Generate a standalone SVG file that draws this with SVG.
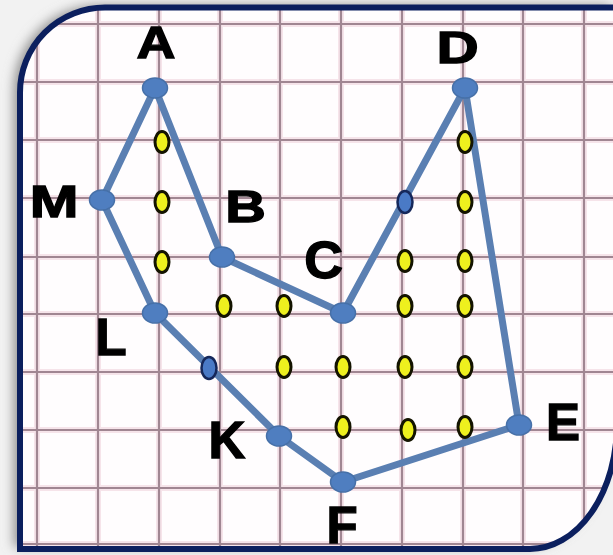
<svg xmlns="http://www.w3.org/2000/svg" width="613" height="555" viewBox="0 0 613 555">
<defs>
<filter id="sh" x="-10%" y="-10%" width="120%" height="120%"><feGaussianBlur stdDeviation="6"/></filter>
<clipPath id="inner"><path d="M 20,549 L 20,92.5 A 85 85 0 0 1 105,7.5 L 617,7.5 L 617,424 A 87 125 0 0 1 530,549 Z"/></clipPath>
<style>
.halo{stroke:#f6e4ea;stroke-width:6;fill:none}
.grid{stroke:#a08692;stroke-width:2.2;fill:none}
.edge{stroke:#5a7fb2;stroke-width:7;fill:none;stroke-linejoin:round}
.vtx{fill:#4f7ec0;stroke:#4670a8;stroke-width:1.5}
.mid{fill:#4a7ac6;stroke:#16285a;stroke-width:2.5}
.yel{fill:#eef01e;stroke:#141400;stroke-width:3}
.lbl{font-family:"Liberation Sans",Arial,sans-serif;font-weight:bold;fill:#000;stroke:#000;stroke-width:1.3;text-anchor:middle}
.top{font-size:45px}
.bot{font-size:51px}
</style>
</defs>
<rect width="613" height="555" fill="#f2f2f2"/>
<path d="M 20,549 L 20,92.5 A 85 85 0 0 1 105,7.5 L 617,7.5 L 617,424 A 87 125 0 0 1 530,549 Z" transform="translate(-6,-2)" fill="#8c8c8c" filter="url(#sh)"/>
<path d="M 20,549 L 20,92.5 A 85 85 0 0 1 105,7.5 L 617,7.5 L 617,424 A 87 125 0 0 1 530,549 Z" fill="#fffdfe"/>
<g id="grid" clip-path="url(#inner)">
<path class="halo" d="M37,0V555M98,0V555M159,0V555M220,0V555M280,0V555M341,0V555M402,0V555M463,0V555M523,0V555M584,0V555M0,24H613M0,82H613M0,140H613M0,198H613M0,257H613M0,314H613M0,372H613M0,430H613M0,488H613M0,544H613"/>
<path class="grid" d="M37,0V555M98,0V555M159,0V555M220,0V555M280,0V555M341,0V555M402,0V555M463,0V555M523,0V555M584,0V555M0,24H613M0,82H613M0,140H613M0,198H613M0,257H613M0,314H613M0,372H613M0,430H613M0,488H613M0,544H613"/>
</g>
<path id="frame" d="M 20,549 L 20,92.5 A 85 85 0 0 1 105,7.5 L 617,7.5 L 617,424 A 87 125 0 0 1 530,549 Z" fill="none" stroke="#0b1f5e" stroke-width="6"/>
<g id="connectors">
<polygon class="edge" points="155,88 222,257 343,313 465,88 519,425 343,482 279,436 155,313 102,200"/>
</g>
<g id="yellow-dots">
<ellipse class="yel" cx="162" cy="142" rx="7" ry="10.5"/>
<ellipse class="yel" cx="162" cy="202" rx="7" ry="10.5"/>
<ellipse class="yel" cx="162" cy="262" rx="7" ry="10.5"/>
<ellipse class="yel" cx="465" cy="142" rx="7" ry="10.5"/>
<ellipse class="yel" cx="465" cy="202" rx="7" ry="10.5"/>
<ellipse class="yel" cx="405" cy="261" rx="7" ry="10.5"/>
<ellipse class="yel" cx="465" cy="261" rx="7" ry="10.5"/>
<ellipse class="yel" cx="224" cy="306" rx="7" ry="10.5"/>
<ellipse class="yel" cx="284" cy="306" rx="7" ry="10.5"/>
<ellipse class="yel" cx="405" cy="306" rx="7" ry="10.5"/>
<ellipse class="yel" cx="465" cy="306" rx="7" ry="10.5"/>
<ellipse class="yel" cx="284" cy="367" rx="7" ry="10.5"/>
<ellipse class="yel" cx="343" cy="367" rx="7" ry="10.5"/>
<ellipse class="yel" cx="405" cy="367" rx="7" ry="10.5"/>
<ellipse class="yel" cx="465" cy="367" rx="7" ry="10.5"/>
<ellipse class="yel" cx="343" cy="427" rx="7" ry="10.5"/>
<ellipse class="yel" cx="408" cy="430" rx="7" ry="10.5"/>
<ellipse class="yel" cx="465" cy="427" rx="7" ry="10.5"/>
</g>
<g id="edge-dots">
<ellipse class="mid" cx="405" cy="202" rx="7.5" ry="11"/>
<ellipse class="mid" cx="209" cy="368" rx="7.5" ry="11"/>
</g>
<g id="node-A"><ellipse class="vtx" cx="155" cy="88" rx="12.5" ry="10"/><text class="lbl top" transform="translate(156,58) scale(1.2,1)">A</text></g>
<g id="node-B"><ellipse class="vtx" cx="222" cy="257" rx="12.5" ry="10"/><text class="lbl top" transform="translate(245.5,222) scale(1.25,1)">B</text></g>
<g id="node-C"><ellipse class="vtx" cx="343" cy="313" rx="12.5" ry="10"/><text class="lbl bot" transform="translate(323.5,278) scale(1.05,1)">C</text></g>
<g id="node-D"><ellipse class="vtx" cx="465" cy="88" rx="12.5" ry="10"/><text class="lbl top" transform="translate(457.5,63) scale(1.3,1)">D</text></g>
<g id="node-E"><ellipse class="vtx" cx="519" cy="425" rx="12.5" ry="10"/><text class="lbl bot" x="563" y="440">E</text></g>
<g id="node-F"><ellipse class="vtx" cx="343" cy="482" rx="12.5" ry="10"/><text class="lbl bot" x="342" y="543">F</text></g>
<g id="node-K"><ellipse class="vtx" cx="279" cy="436" rx="12.5" ry="10"/><text class="lbl bot" x="227" y="458">K</text></g>
<g id="node-L"><ellipse class="vtx" cx="155" cy="313" rx="12.5" ry="10"/><text class="lbl bot" x="111" y="355">L</text></g>
<g id="node-M"><ellipse class="vtx" cx="102" cy="200" rx="12.5" ry="10"/><text class="lbl top" transform="translate(54,217) scale(1.3,1)">M</text></g>
</svg>
